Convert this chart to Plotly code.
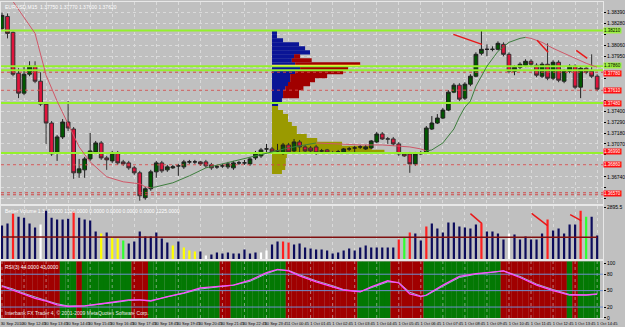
import plotly.graph_objects as go
from plotly.subplots import make_subplots

# ---------------- data ----------------
opens = [1.3823,1.3835,1.3819,1.3778,1.3758,1.3777,1.3785,1.3770,1.3747,1.3728,
         1.3698,1.3714,1.3729,1.3722,1.3678,1.3681,1.3692,1.3699,1.3708,1.3693,
         1.3690,1.3698,1.3689,1.3688,1.3683,1.3678,1.3653,1.3662,1.3679,1.3688,
         1.3681,1.3683,1.3685,1.3684,1.3689,1.3689,1.3689,1.3689,1.3686,1.3684,
         1.3685,1.3684,1.3683,1.3688,1.3688,1.3687,1.3693,1.3695,1.3702,1.3702,
         1.3700,1.3698,1.3706,1.3700,1.3709,1.3704,1.3703,1.3704,1.3700,1.3701,
         1.3698,1.3699,1.3699,1.3702,1.3703,1.3704,1.3702,1.3703,1.3709,1.3717,
         1.3712,1.3712,1.3707,1.3697,1.3697,1.3687,1.3697,1.3698,1.3722,1.3728,
         1.3733,1.3741,1.3759,1.3766,1.3753,1.3767,1.3775,1.3798,1.3802,1.3802,
         1.3802,1.3807,1.3797,1.3780,1.3784,1.3786,1.3790,1.3786,1.3775,1.3787,
         1.3773,1.3789,1.3770,1.3780,1.3785,1.3764,1.3783,1.3780,1.3775]
closes = [1.3836,1.3818,1.3777,1.3758,1.3777,1.3785,1.3770,1.3747,1.3728,1.3697,
          1.3714,1.3729,1.3723,1.3678,1.3682,1.3692,1.3700,1.3708,1.3693,1.3691,
          1.3698,1.3688,1.3687,1.3683,1.3678,1.3655,1.3662,1.3679,1.3688,1.3680,
          1.3684,1.3684,1.3685,1.3689,1.3689,1.3689,1.3687,1.3685,1.3683,1.3684,
          1.3685,1.3687,1.3688,1.3688,1.3688,1.3692,1.3698,1.3701,1.3702,1.3699,
          1.3700,1.3706,1.3699,1.3709,1.3704,1.3700,1.3700,1.3698,1.3700,1.3698,
          1.3698,1.3699,1.3702,1.3702,1.3703,1.3704,1.3704,1.3710,1.3717,1.3712,
          1.3712,1.3707,1.3697,1.3695,1.3687,1.3697,1.3698,1.3723,1.3728,1.3733,
          1.3741,1.3759,1.3766,1.3752,1.3767,1.3775,1.3797,1.3802,1.3802,1.3802,
          1.3808,1.3797,1.3780,1.3784,1.3787,1.3790,1.3787,1.3776,1.3787,1.3773,
          1.3789,1.3771,1.3780,1.3785,1.3764,1.3783,1.3779,1.3775,1.3762]
highs = [1.3839,1.3838,1.3820,1.3783,1.3785,1.3790,1.3790,1.3779,1.3749,1.3730,
         1.3716,1.3732,1.3750,1.3724,1.3692,1.3694,1.3718,1.3710,1.3710,1.3695,
         1.3700,1.3700,1.3691,1.3690,1.3685,1.3680,1.3664,1.3681,1.3690,1.3690,
         1.3686,1.3686,1.3687,1.3691,1.3691,1.3691,1.3690,1.3691,1.3688,1.3686,
         1.3687,1.3689,1.3690,1.3690,1.3691,1.3694,1.3700,1.3703,1.3707,1.3704,
         1.3707,1.3708,1.3708,1.3712,1.3711,1.3706,1.3705,1.3706,1.3702,1.3702,
         1.3700,1.3701,1.3703,1.3704,1.3705,1.3706,1.3706,1.3711,1.3719,1.3719,
         1.3714,1.3714,1.3709,1.3698,1.3699,1.3699,1.3700,1.3725,1.3735,1.3737,
         1.3743,1.3761,1.3768,1.3768,1.3769,1.3777,1.3799,1.3821,1.3807,1.3805,
         1.3810,1.3809,1.3799,1.3786,1.3789,1.3792,1.3792,1.3788,1.3789,1.3808,
         1.3791,1.3791,1.3782,1.3787,1.3787,1.3785,1.3785,1.3797,1.3777]
lows = [1.3821,1.3813,1.3775,1.3753,1.3756,1.3775,1.3768,1.3745,1.3707,1.3695,
        1.3690,1.3712,1.3720,1.3672,1.3673,1.3673,1.3690,1.3697,1.3691,1.3681,
        1.3688,1.3686,1.3685,1.3681,1.3676,1.3650,1.3651,1.3660,1.3673,1.3678,
        1.3679,1.3682,1.3675,1.3682,1.3687,1.3687,1.3685,1.3683,1.3681,1.3682,
        1.3683,1.3682,1.3681,1.3686,1.3686,1.3685,1.3691,1.3693,1.3697,1.3697,
        1.3698,1.3696,1.3697,1.3698,1.3697,1.3698,1.3698,1.3696,1.3698,1.3697,
        1.3697,1.3697,1.3698,1.3700,1.3699,1.3702,1.3701,1.3702,1.3708,1.3711,
        1.3707,1.3705,1.3695,1.3694,1.3678,1.3685,1.3696,1.3697,1.3721,1.3727,
        1.3732,1.3740,1.3758,1.3750,1.3751,1.3765,1.3774,1.3796,1.3795,1.3800,
        1.3801,1.3795,1.3778,1.3776,1.3782,1.3784,1.3784,1.3774,1.3773,1.3771,
        1.3771,1.3769,1.3768,1.3778,1.3762,1.3753,1.3777,1.3773,1.3760]

# moving average (colored by slope)
ma_idx = [2,4,6,8,10,12,14,16,19,22,25,26,27,28,31,34,37,40,44,48,52,55,57,61,65,
          69,72,74,76,77,78,80,82,83,84,85,86,88,90,92,94,95,96,98,100,102,104,106,108]
ma_val = [1.3850,1.3834,1.3818,1.3776,1.3750,1.3727,1.3704,1.3689,1.3674,1.3669,
          1.3667,1.3664,1.3663,1.3664,1.3668,1.3675,1.3683,1.3687,1.3692,1.3698,
          1.3703,1.3706,1.3708,1.3707,1.3706,1.3706,1.3705,1.3704,1.3702,1.3700,
          1.3701,1.3708,1.3722,1.3734,1.3744,1.3750,1.3765,1.3785,1.3800,1.3809,
          1.3813,1.3814,1.3813,1.3809,1.3803,1.3798,1.3793,1.3788,1.3784]

# horizontal levels
lime_levels = [1.3821, 1.3785, 1.3781, 1.3748, 1.3698]
red_levels = [1.3779, 1.3761, 1.3686, 1.3658, 1.3656]
red_label_levels = [1.3778, 1.3761, 1.3748, 1.3699, 1.3686, 1.3657]
green_label_levels = [1.3821, 1.3786]

# market profile (levels in price, lengths in bars)
prof_start = 49.0
prof_step = 0.0004
prof1_levels = [1.3819,1.3815,1.3811,1.3807,1.3803,1.3799,1.3795,1.3791,1.3787,1.3783,
                1.3779,1.3775,1.3771,1.3767,1.3763,1.3759,1.3755,1.3751,1.3747]
prof1_blue = [0.9,0.9,2.0,4.9,6.0,6.9,4.0,3.6,4.2,5.1,4.2,3.3,3.3,2.9,2.4,2.0,2.0,1.8,1.1]
prof1_red = [0,0,0,0,0,0,1.1,3.6,11.8,8.7,8.7,6.7,4.5,4.0,3.3,2.9,2.9,0,0]
prof2_levels = [1.3743,1.3739,1.3735,1.3731,1.3727,1.3723,1.3719,1.3715,1.3711,1.3707,
                1.3703,1.3699,1.3695,1.3691,1.3687,1.3683,1.3679]
prof2_olive = [1.1,2.0,2.9,2.9,3.6,4.5,4.5,6.3,8.2,12.7,18.1,20.4,2.7,2.5,2.5,2.4,1.8]
poc_level = 1.3786

# trend lines (bar index, value)
tl_main = [([81.9, 87.1], [1.3817, 1.3807]),
           ([97.1, 99.1], [1.3811, 1.3799]),
           ([104.2, 106.2], [1.3801, 1.3793])]
tl_vol = [([85.0, 87.1], [2530, 1980]),
          ([96.1, 99.0], [2548, 1870]),
          ([103.1, 105.1], [2475, 2145])]

# volume
volume = [1870,1980,2530,2365,2310,1980,1760,1925,2695,2310,
          2200,2200,2255,2640,2310,2200,2145,1540,1430,1485,
          1210,1155,1045,880,990,1540,1265,1265,1485,1155,
          935,770,990,660,495,440,440,220,275,385,
          330,385,330,330,550,330,385,385,495,825,
          990,990,935,825,880,660,605,550,550,495,
          330,385,495,605,495,660,770,660,660,660,
          660,660,1100,1210,1485,1430,1045,1815,1980,1705,
          1485,2035,2035,1815,1760,1705,1925,1980,1540,1540,
          1430,1100,1430,1375,1100,1265,1100,1100,1430,2200,
          1595,1705,1430,1925,1925,2695,2365,2365,1320]
vol_red_idx = [2, 13, 51, 52, 72, 74, 77, 87, 99, 105]
vol_white_idx = [7, 37, 47, 48, 92]
vol_yellow_idx = [18, 20, 21, 31, 33, 34, 35]
vol_lime_idx = [22, 73, 106]
vol_ma_idx = [0, 20, 40, 60, 80, 108]
vol_ma_val = [1235, 1225, 1215, 1220, 1225, 1225]
vol_top_label = 2895.5

# RSI
rsi_idx = [0,2,4,6,8,10,12,15,18,21,23,25,27,30,33,36,39,42,45,48,50,52,54,57,60,
           62,65,67,70,72,74,76,77,80,83,86,89,91,94,97,100,103,106,108]
rsi_main = [58,51,43,36,31,24,21,22,26,30,33,33,31,39,46,55,58,60,69,83,89,86,77,66,57,
            51,48,57,68,64,44,39,42,60,76,81,84,86,74,60,50,42,42,44]
rsi_signal = [59,53,45,38,32,26,22,22,25,29,32,33,32,38,45,53,57,60,67,81,88,87,79,68,59,
              52,48,55,66,65,47,40,41,58,74,80,83,86,76,62,52,43,42,43]
rsi_levels = [20, 50, 80]
# background zones: (first bar, last bar, 'G'/'R')
rsi_zones = [(0,10,'R'),(11,13,'G'),(14,14,'R'),(15,23,'G'),(24,26,'R'),(27,39,'G'),
             (40,41,'R'),(42,51,'G'),(52,64,'R'),(65,70,'G'),(71,76,'R'),(77,90,'G'),
             (91,102,'R'),(103,103,'G'),(104,104,'R'),(105,108,'G')]

# time axis labels (every 4 bars = 1 hour)
tick_labels = ["30 Sep 2010","30 Sep 12:45","30 Sep 13:45","30 Sep 14:45","30 Sep 15:45",
               "30 Sep 16:45","30 Sep 17:45","30 Sep 18:45","30 Sep 19:45","30 Sep 20:45",
               "30 Sep 21:45","30 Sep 22:45","30 Sep 23:45","1 Oct 00:45","1 Oct 01:45",
               "1 Oct 02:45","1 Oct 03:45","1 Oct 04:45","1 Oct 05:45","1 Oct 06:45",
               "1 Oct 07:45","1 Oct 08:45","1 Oct 09:45","1 Oct 10:45","1 Oct 11:45",
               "1 Oct 12:45","1 Oct 13:45","1 Oct 14:45"]

# price scale ticks
price_tick0 = 1.3652
price_dtick = 0.0011
price_range = [1.3647, 1.38495]

# ---------------- figure ----------------
n = len(opens)
idx = list(range(n))
tick_vals = [4 * i for i in range(len(tick_labels))]
FONT = "Liberation Sans Narrow, Liberation Sans, Arial"
BG = "#c0c0c0"
XR = [-0.18, 109.06]

fig = make_subplots(rows=3, cols=1, shared_xaxes=True, vertical_spacing=0)

# profile bars
fig.add_trace(go.Bar(orientation='h', y=prof1_levels, x=prof1_blue, base=prof_start,
                     width=prof_step * 1.05, marker=dict(color="#0a1496", line=dict(width=0)),
                     showlegend=False), row=1, col=1)
fig.add_trace(go.Bar(orientation='h', y=prof1_levels, x=prof1_red,
                     base=[prof_start + b for b in prof1_blue],
                     width=prof_step * 1.05, marker=dict(color="#a00000", line=dict(width=0)),
                     showlegend=False), row=1, col=1)
fig.add_trace(go.Bar(orientation='h', y=prof2_levels, x=prof2_olive, base=prof_start,
                     width=prof_step * 1.05, marker=dict(color="#9a9a00", line=dict(width=0)),
                     showlegend=False), row=1, col=1)

# candles
fig.add_trace(go.Candlestick(x=idx, open=opens, high=highs, low=lows, close=closes,
                             increasing=dict(fillcolor="#005800", line=dict(color="#202020", width=1)),
                             decreasing=dict(fillcolor="#e0143c", line=dict(color="#303030", width=1)),
                             whiskerwidth=0, showlegend=False, hoverinfo='skip'), row=1, col=1)

# horizontal levels
for lv in lime_levels:
    fig.add_trace(go.Scatter(x=XR, y=[lv, lv], mode='lines',
                             line=dict(color="#94f02c", width=2), showlegend=False,
                             hoverinfo='skip'), row=1, col=1)
for lv in red_levels:
    fig.add_trace(go.Scatter(x=XR, y=[lv, lv], mode='lines',
                             line=dict(color="#d04848", width=1, dash='dot'), showlegend=False,
                             hoverinfo='skip'), row=1, col=1)

# POC line
poc_row = prof1_levels.index(min(prof1_levels, key=lambda v: abs(v - poc_level)))
fig.add_trace(go.Scatter(x=[prof_start, prof_start + prof1_blue[poc_row] + prof1_red[poc_row]],
                         y=[poc_level, poc_level], mode='lines',
                         line=dict(color="#ffff40", width=1), showlegend=False,
                         hoverinfo='skip'), row=1, col=1)

# MA coloured by slope
runs = []
prev = None
for i in range(len(ma_idx) - 1):
    if ma_val[i + 1] > ma_val[i]:
        c = 'up'
    elif ma_val[i + 1] < ma_val[i]:
        c = 'down'
    else:
        c = prev or 'down'
    if c == prev:
        runs[-1][1].append(ma_idx[i + 1]); runs[-1][2].append(ma_val[i + 1])
    else:
        runs.append((c, [ma_idx[i], ma_idx[i + 1]], [ma_val[i], ma_val[i + 1]]))
    prev = c
for col, cname in (('down', "#d05868"), ('up', "#3e7e3e")):
    xs, ys = [], []
    for c, rx, ry in runs:
        if c == col:
            xs += rx + [None]; ys += ry + [None]
    fig.add_trace(go.Scatter(x=xs, y=ys, mode='lines', line=dict(color=cname, width=1),
                             showlegend=False, hoverinfo='skip'), row=1, col=1)

for tx, ty in tl_main:
    fig.add_trace(go.Scatter(x=tx, y=ty, mode='lines', line=dict(color="#e81818", width=1.5),
                             showlegend=False, hoverinfo='skip'), row=1, col=1)

# volume
vcol = ["#0c0c5c"] * n
for i in vol_red_idx: vcol[i] = "#ff2020"
for i in vol_white_idx: vcol[i] = "#ffffff"
for i in vol_yellow_idx: vcol[i] = "#ffff00"
for i in vol_lime_idx: vcol[i] = "#30ff30"
fig.add_trace(go.Bar(x=idx, y=volume, width=0.4, marker=dict(color=vcol, line=dict(width=0)),
                     showlegend=False, hoverinfo='skip'), row=2, col=1)
fig.add_trace(go.Scatter(x=vol_ma_idx, y=vol_ma_val, mode='lines',
                         line=dict(color="#801010", width=1.5), showlegend=False,
                         hoverinfo='skip'), row=2, col=1)
for tx, ty in tl_vol:
    fig.add_trace(go.Scatter(x=tx, y=ty, mode='lines', line=dict(color="#e81818", width=1.5),
                             showlegend=False, hoverinfo='skip'), row=2, col=1)

# RSI background
RSI_TOP = 103.5
zcol = [None] * n
for a, b, c in rsi_zones:
    for i in range(a, b + 1):
        zcol[i] = "#037803" if c == 'G' else "#a00000"
fig.add_trace(go.Bar(x=idx, y=[RSI_TOP] * n, width=1.02, marker=dict(color=zcol, line=dict(width=0)),
                     showlegend=False, hoverinfo='skip'), row=3, col=1)
gx, gy = [], []
for t in tick_vals:
    gx += [t, t, None]; gy += [0, RSI_TOP, None]
fig.add_trace(go.Scatter(x=gx, y=gy, mode='lines',
                         line=dict(color="rgba(215,215,215,0.55)", width=1, dash='dot'),
                         showlegend=False, hoverinfo='skip'), row=3, col=1)
for lv in rsi_levels:
    fig.add_trace(go.Scatter(x=XR, y=[lv, lv], mode='lines', line=dict(color="#6f8fd0", width=1),
                             showlegend=False, hoverinfo='skip'), row=3, col=1)
fig.add_trace(go.Scatter(x=rsi_idx, y=rsi_signal, mode='lines', line=dict(color="#9ab8d8", width=1),
                         showlegend=False, hoverinfo='skip'), row=3, col=1)
fig.add_trace(go.Scatter(x=rsi_idx, y=rsi_main, mode='lines', line=dict(color="#ff4cff", width=1.3),
                         showlegend=False, hoverinfo='skip'), row=3, col=1)

# ---------------- layout ----------------
H_PLOT = 318.0
fig.update_layout(
    width=625, height=327, margin=dict(l=0, r=22, t=0, b=9, pad=0),
    paper_bgcolor=BG, plot_bgcolor=BG, barmode='overlay',
    boxgap=0.25, boxgroupgap=0.1, hovermode=False,
    font=dict(family=FONT, size=5, color="#000000"), showlegend=False,
)
doms = {1: [(H_PLOT - 203) / H_PLOT, 1.0], 2: [(H_PLOT - 259) / H_PLOT, (H_PLOT - 205) / H_PLOT],
        3: [0.0, (H_PLOT - 261) / H_PLOT]}
for r in (1, 2, 3):
    fig.update_xaxes(row=r, col=1, range=XR, tickmode='array', tickvals=tick_vals,
                     ticktext=tick_labels, showgrid=True, gridcolor="#dadada", griddash='dot',
                     gridwidth=1, zeroline=False, showline=True, linecolor="#e8e8e8",
                     mirror=True, showticklabels=(r == 3), ticks='',
                     rangeslider=dict(visible=False), fixedrange=True)
    fig.update_yaxes(row=r, col=1, domain=doms[r], side='right', zeroline=False,
                     showline=True, linecolor="#e8e8e8", mirror=True, ticks='outside',
                     ticklen=2, tickcolor="#000000", tickfont=dict(size=5, family=FONT),
                     fixedrange=True)
fig.update_xaxes(row=3, col=1, tickfont=dict(size=4, family=FONT), tickangle=0,
                 ticklabelshift=10, ticklabelstandoff=1)

# price ticks: labels hidden where a coloured level label sits (as in the terminal)
label_levels = red_label_levels + green_label_levels
grid_vals, text_vals = [], []
k = 0
while price_tick0 + k * price_dtick < price_range[1]:
    v = round(price_tick0 + k * price_dtick, 5)
    grid_vals.append(v)
    near = any(abs(v - lv) < 0.00065 for lv in label_levels)
    text_vals.append("" if near else f"{v:.5f}")
    k += 1
fig.update_yaxes(row=1, col=1, range=price_range, tickmode='array', tickvals=grid_vals,
                 ticktext=text_vals, showgrid=True, gridcolor="#dadada", griddash='dot')
fig.update_yaxes(row=2, col=1, range=[0, 2970], tickmode='array', tickvals=[vol_top_label],
                 ticktext=[f"{vol_top_label:.1f}"], showgrid=False)
fig.update_yaxes(row=3, col=1, range=[0, RSI_TOP], tickmode='array',
                 tickvals=[0, 20, 50, 80, 100], showgrid=False)

ann = []
ann.append(dict(xref='paper', yref='paper', x=0.004, y=1.0, xanchor='left', yanchor='top',
                text=f"EURUSD,M15  {opens[-1]:.5f} {highs[-1]:.5f} {lows[-1]:.5f} {closes[-1]:.5f}",
                showarrow=False, font=dict(size=5, color="#ffffff", family=FONT)))
ann.append(dict(xref='paper', yref='y2 domain', x=0.004, y=1.0, xanchor='left', yanchor='top',
                text=f"Better Volume 1.3  0.0000 {volume[-1]:.4f} 0.0000 0.0000 0.0000 0.0000 {vol_ma_val[-1]:.4f}",
                showarrow=False, font=dict(size=5, color="#ffffff", family=FONT)))
ann.append(dict(xref='paper', yref='y3 domain', x=0.004, y=0.99, xanchor='left', yanchor='top',
                text=f"RSI(3) {rsi_main[-1]:.4f} {rsi_signal[-1]:.4f}",
                showarrow=False, font=dict(size=5, color="#ffffff", family=FONT)))
ann.append(dict(xref='paper', yref='y3 domain', x=0.004, y=0.0, xanchor='left', yanchor='bottom',
                text="Interbank FX Trader 4, © 2001-2009 MetaQuotes Software Corp.",
                showarrow=False, font=dict(size=5, color="#e8e8e8", family=FONT)))
for lv in red_label_levels:
    ann.append(dict(xref='paper', yref='y', x=1.0, y=lv, xanchor='left', yanchor='middle',
                    text=f"{lv:.5f}", showarrow=False, bgcolor="#ff1010", borderpad=0,
                    font=dict(size=4.5, color="#ffffff", family=FONT)))
for lv in green_label_levels:
    ann.append(dict(xref='paper', yref='y', x=1.0, y=lv, xanchor='left', yanchor='middle',
                    text=f"{lv:.5f}", showarrow=False, bgcolor="#9cf040", borderpad=0,
                    font=dict(size=4.5, color="#000000", family=FONT)))
fig.update_layout(annotations=ann)

fig.write_html("out.html")
